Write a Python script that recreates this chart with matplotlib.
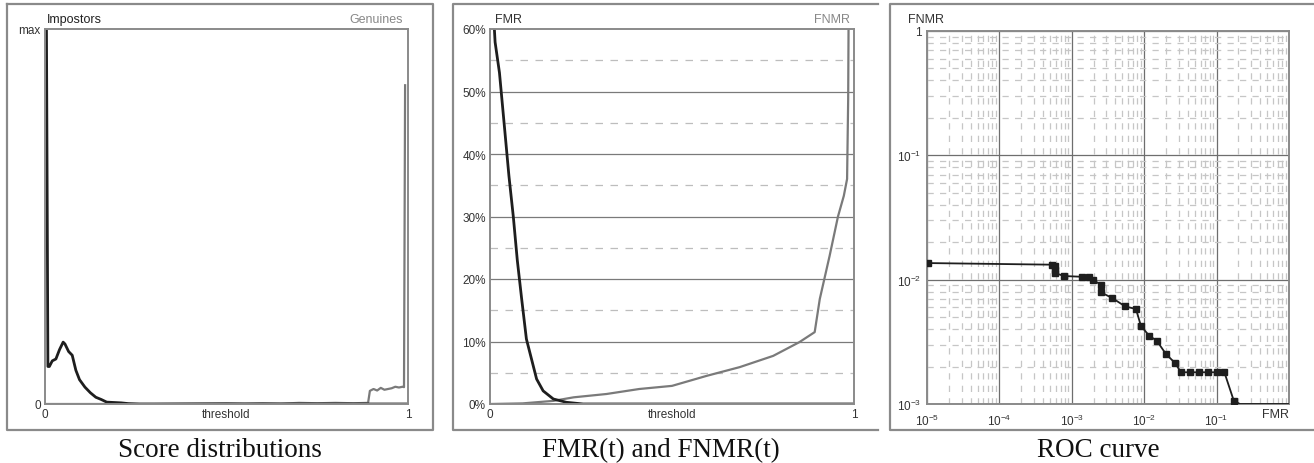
import matplotlib
matplotlib.use("Agg")
import matplotlib.pyplot as plt
from matplotlib.lines import Line2D
import numpy as np

plt.rcParams['font.family'] = ['Liberation Sans', 'DejaVu Sans']
plt.rcParams['mathtext.fontset'] = 'custom'
plt.rcParams['mathtext.rm'] = 'Liberation Sans'
plt.rcParams['mathtext.it'] = 'Liberation Sans'

# ---------------- data ----------------
# Score distributions (normalised to max = 1)
imp_x = [0.0, 0.004, 0.008, 0.012, 0.02, 0.03, 0.04, 0.05, 0.055, 0.065, 0.075, 0.085,
         0.095, 0.11, 0.125, 0.14, 0.155, 0.17, 0.19, 0.21, 0.23, 0.26, 1.0]
imp_y = [1.05, 1.0, 0.10, 0.10, 0.115, 0.12, 0.145, 0.165, 0.16, 0.14, 0.13, 0.09,
         0.065, 0.045, 0.03, 0.018, 0.012, 0.005, 0.004, 0.003, 0.001, 0.0, 0.0]
gen_x = [0.0, 0.30, 0.40, 0.50, 0.55, 0.60, 0.65, 0.70, 0.75, 0.80, 0.85, 0.89, 0.895,
         0.905, 0.915, 0.925, 0.935, 0.945, 0.955, 0.965, 0.975, 0.985, 0.989, 0.992]
gen_y = [0.0, 0.0, 0.001, 0.002, 0.001, 0.002, 0.001, 0.003, 0.002, 0.003, 0.002, 0.003, 0.035,
         0.040, 0.036, 0.043, 0.038, 0.040, 0.042, 0.046, 0.044, 0.046, 0.045, 0.85]

# FMR / FNMR vs threshold (percent)
fmr_x = [0.012, 0.014, 0.026, 0.041, 0.052, 0.064, 0.075, 0.087, 0.10, 0.114, 0.128,
         0.146, 0.174, 0.21, 0.256, 1.0]
fmr_y = [60.0, 57.9, 53.0, 43.5, 36.5, 30.0, 23.0, 16.8, 10.4, 7.2, 4.0,
         2.1, 0.8, 0.27, 0.0, 0.0]
fnmr_x = [0.0, 0.09, 0.174, 0.23, 0.32, 0.41, 0.50, 0.595, 0.686, 0.778, 0.85, 0.892,
          0.906, 0.933, 0.956, 0.972, 0.981, 0.984, 0.985]
fnmr_y = [0.0, 0.1, 0.5, 1.07, 1.6, 2.4, 2.9, 4.5, 5.9, 7.7, 9.9, 11.5,
          16.8, 23.7, 30.0, 33.3, 36.0, 48.8, 60.0]

# ROC curve (markers)
roc_fmr = [1.02e-5, 5.3e-4, 5.9e-4, 5.9e-4, 5.9e-4, 7.8e-4, 1.37e-3, 1.75e-3, 1.99e-3,
           2.54e-3, 2.54e-3, 3.64e-3, 5.44e-3, 7.7e-3, 9.0e-3, 1.17e-2, 1.49e-2,
           2.0e-2, 2.66e-2, 3.22e-2, 4.29e-2, 5.70e-2, 7.51e-2, 0.100, 0.128, 0.173]
roc_fnmr = [0.0136, 0.0132, 0.0129, 0.0120, 0.0113, 0.0107, 0.01055, 0.0105, 0.0099,
            0.0091, 0.0079, 0.0071, 0.0061, 0.0058, 0.00426, 0.00354, 0.00323,
            0.00252, 0.00214, 0.00180, 0.00180, 0.00180, 0.00180, 0.00180, 0.00180, 0.00106]
roc_tail_fmr = [0.173, 0.21, 1.0]
roc_tail_fnmr = [0.00106, 0.001, 0.001]

titles = ["Score distributions", "FMR(t) and FNMR(t)", "ROC curve"]

# ---------------- figure ----------------
W, H = 1314, 464
fig = plt.figure(figsize=(W / 100, H / 100), dpi=100)

def ax_px(l, r, t, b):
    return fig.add_axes([l / W, (H - b) / H, (r - l) / W, (b - t) / H])

def fline(xs, ys, **kw):
    fig.add_artist(Line2D([x / W for x in xs], [(H - y) / H for y in ys],
                          transform=fig.transFigure, **kw))

BOX = dict(color='#8a8a8a', lw=1.6)
# panel boxes
fline([7, 7, 433, 433, 7], [5, 431, 431, 5, 5], **BOX)
fline([878, 453, 453, 878], [5, 5, 431, 431], **BOX)
fline([1314, 890, 890, 1314], [5, 5, 431, 431], **BOX)

DARK = '#1e1e1e'
GRAY = '#7a7a7a'
TXT = '#333333'
SPINE = '#8a8a8a'

def style_spines(ax):
    for s in ax.spines.values():
        s.set_color(SPINE)
        s.set_linewidth(1.4)

# ---- Panel 1 ----
ax1 = ax_px(45, 408, 30, 405)
ax1.plot(gen_x, gen_y, color=GRAY, lw=1.6, clip_on=True)
ax1.plot(imp_x, imp_y, color=DARK, lw=2.0, clip_on=True)
ax1.set_xlim(0, 1)
ax1.set_ylim(0, 1)
ax1.set_xticks([0, 1])
ax1.set_xticklabels(["0", "1"])
ax1.set_yticks([0, 1])
ax1.set_yticklabels(["0", "max"])
ax1.tick_params(length=0, labelsize=8.5, colors=TXT, pad=3)
style_spines(ax1)
ax1.text(0.5, -0.012, "threshold", transform=ax1.transAxes, ha='center', va='top',
         fontsize=8.5, color=TXT)
ax1.text(0.005, 1.01, "Impostors", transform=ax1.transAxes, ha='left', va='bottom',
         fontsize=9, color='#222222')
ax1.text(0.985, 1.01, "Genuines", transform=ax1.transAxes, ha='right', va='bottom',
         fontsize=9, color='#888888')

# ---- Panel 2 ----
ax2 = ax_px(490, 854, 30, 405)
for v in range(10, 60, 10):
    ax2.axhline(v, color='#7a7a7a', lw=0.9, zorder=0)
for v in range(5, 60, 10):
    ax2.axhline(v, color='#bdbdbd', lw=0.9, ls=(0, (6, 6)), zorder=0)
ax2.plot(fnmr_x, fnmr_y, color=GRAY, lw=1.6, clip_on=True)
ax2.plot(fmr_x, fmr_y, color=DARK, lw=2.0, clip_on=True)
ax2.set_xlim(0, 1)
ax2.set_ylim(0, 60)
ax2.set_xticks([0, 1])
ax2.set_xticklabels(["0", "1"])
ax2.set_yticks(range(0, 61, 10))
ax2.set_yticklabels([f"{v}%" for v in range(0, 61, 10)])
ax2.tick_params(length=0, labelsize=8.5, colors=TXT, pad=3)
style_spines(ax2)
ax2.text(0.5, -0.012, "threshold", transform=ax2.transAxes, ha='center', va='top',
         fontsize=8.5, color=TXT)
ax2.text(0.015, 1.01, "FMR", transform=ax2.transAxes, ha='left', va='bottom',
         fontsize=9, color='#333333')
ax2.text(0.99, 1.01, "FNMR", transform=ax2.transAxes, ha='right', va='bottom',
         fontsize=9, color='#888888')

# ---- Panel 3 ----
ax3 = ax_px(927, 1289, 32, 405)
ax3.set_xscale('log')
ax3.set_yscale('log')
ax3.set_xlim(1e-5, 1)
ax3.set_ylim(1e-3, 1)
ax3.grid(which='major', color='#6e6e6e', lw=0.9, zorder=0)
ax3.grid(which='minor', color='#c6c6c6', lw=0.9, ls=(0, (5, 5)), zorder=0)
ax3.plot(roc_tail_fmr, roc_tail_fnmr, color=DARK, lw=1.3, zorder=3)
ax3.plot(roc_fmr, roc_fnmr, color=DARK, lw=1.3, marker='s', ms=5, zorder=3)
ax3.set_xticks([1e-5, 1e-4, 1e-3, 1e-2, 1e-1])
ax3.set_xticklabels([r'$10^{-5}$', r'$10^{-4}$', r'$10^{-3}$', r'$10^{-2}$', r'$10^{-1}$'])
ax3.set_yticks([1e-3, 1e-2, 1e-1, 1])
ax3.set_yticklabels([r'$10^{-3}$', r'$10^{-2}$', r'$10^{-1}$', '1'])
ax3.tick_params(which='both', length=0, labelsize=8.5, colors=TXT)
ax3.tick_params(axis='y', pad=4)
ax3.tick_params(axis='x', pad=6)
style_spines(ax3)
ax3.text(-0.052, 1.015, "FNMR", transform=ax3.transAxes, ha='left', va='bottom',
         fontsize=9, color=TXT)
ax3.text(1.0, -0.012, "FMR", transform=ax3.transAxes, ha='right', va='top',
         fontsize=9, color=TXT)

# ---- captions ----
for cx, t in zip([220, 661, 1098], titles):
    fig.text(cx / W, (H - 457) / H, t, ha='center', va='baseline',
             fontsize=19.5, family='Liberation Serif', color='#111111')

fig.savefig("out.png", dpi=100)
